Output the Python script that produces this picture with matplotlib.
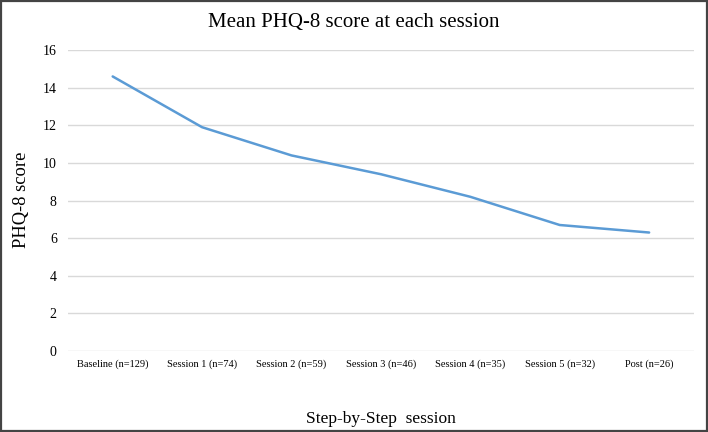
import matplotlib.pyplot as plt
from matplotlib.patches import Rectangle

sessions = ['Baseline (n=129)', 'Session 1 (n=74)', 'Session 2 (n=59)', 'Session 3 (n=46)',
            'Session 4 (n=35)', 'Session 5 (n=32)', 'Post (n=26)']
mean_phq8 = [14.6, 11.9, 10.4, 9.4, 8.2, 6.7, 6.3]

plt.rcParams['font.family'] = ['Liberation Serif', 'DejaVu Serif']

fig = plt.figure(figsize=(7.08, 4.32), dpi=100)
ax = fig.add_axes([0.096, 0.1875, 0.884, 0.6965])

x = range(len(sessions))
ax.plot(x, mean_phq8, color='#5B9BD5', lw=1.8, solid_capstyle='round')

ax.set_xlim(-0.5, len(sessions) - 0.5)
ax.set_ylim(0, 16)
ax.set_yticks(range(0, 17, 2))
ax.set_xticks(list(x))
ax.set_xticklabels(sessions, fontsize=7.5)
ax.tick_params(axis='y', labelsize=10, length=0, pad=8)
ax.tick_params(axis='x', length=0, pad=6)
ax.grid(axis='y', color='#D9D9D9', lw=1)
ax.set_axisbelow(True)
for s in ax.spines.values():
    s.set_visible(False)

ax.set_xlabel('Step-by-Step  session', fontsize=12.5, labelpad=30)
fig.text(22 / 708, 1 - 200 / 432, 'PHQ-8 score', fontsize=13.3, rotation=90, ha='center', va='center')
fig.text(0.5, 1 - 23 / 432, 'Mean PHQ-8 score at each session', fontsize=15, ha='center', va='center')

# dark frame round the whole image
fig.patches.append(Rectangle((0.001, 0.002), 0.997, 0.996, transform=fig.transFigure,
                             fill=False, edgecolor='#444444', lw=1.6))

fig.savefig('out.png', dpi=100)
